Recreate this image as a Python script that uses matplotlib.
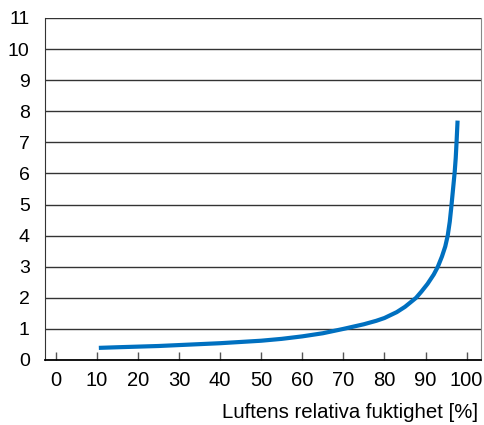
import matplotlib.pyplot as plt

plt.rcParams['font.family'] = ['Liberation Sans', 'DejaVu Sans']

# Relativ fuktighet [%] och kurvans värden
humidity = [10.5, 15, 20, 25, 30, 35, 40, 45, 50, 55, 60, 65, 70, 75, 78, 80, 83, 85,
            87.7, 89, 90.5, 92, 93, 94, 94.8, 95.4, 95.9, 96.3, 96.7, 97.1, 97.35,
            97.55, 97.8]
values = [0.39, 0.41, 0.43, 0.45, 0.48, 0.51, 0.54, 0.58, 0.62, 0.68, 0.76, 0.86, 1.0,
          1.15, 1.26, 1.35, 1.54, 1.71, 2.0, 2.2, 2.45, 2.75, 3.0, 3.33, 3.65, 4.0,
          4.45, 4.95, 5.5, 6.05, 6.5, 7.0, 7.7]

xticks = list(range(0, 101, 10))
yticks = list(range(0, 12))

fig = plt.figure(figsize=(4.85, 4.25), dpi=100)
ax = fig.add_axes([45 / 485, 65 / 425, 436 / 485, 342 / 425])

for y in yticks[1:]:
    ax.axhline(y, color='#333333', lw=1.0, zorder=1)

ax.plot(humidity, values, color='#0070C0', lw=3, solid_capstyle='butt', zorder=3)

ax.set_xlim(-2.6, 103.5)
ax.set_ylim(0, 11)
ax.set_xticks(xticks)
ax.set_yticks(yticks)
ax.tick_params(axis='x', direction='in', length=6, width=1, color='#555555',
               labelsize=14.5, pad=8)
ax.tick_params(axis='y', length=0, labelsize=14, pad=11)

ax.spines['top'].set_visible(False)
ax.spines['left'].set_color('#333333')
ax.spines['right'].set_color('#888888')
ax.spines['bottom'].set_color('black')
ax.spines['bottom'].set_linewidth(1.3)

fig.text(478 / 485, 1 - 412 / 425, 'Luftens relativa fuktighet [%]',
         ha='right', va='center', fontsize=14.7)

fig.savefig('out.png', dpi=100)
